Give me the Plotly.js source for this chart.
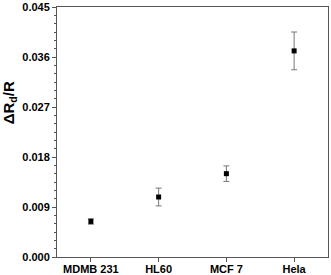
<!DOCTYPE html>
<html><head><meta charset="utf-8">
<script src="https://cdn.plot.ly/plotly-3.0.1.min.js"></script>
<style>html,body{margin:0;padding:0;background:#fff}#c{width:331px;height:275px}</style>
</head><body><div id="c"></div>
<script>
const categories = ["MDMB 231", "HL60", "MCF 7", "Hela"];
const values = [0.0064, 0.0108, 0.0150, 0.0371];
const errors = [0.0005, 0.0016, 0.0014, 0.0034];
const yTicks = [0, 0.009, 0.018, 0.027, 0.036, 0.045];
const yTickText = ["0.000", "0.009", "0.018", "0.027", "0.036", "0.045"];

const fam = "Liberation Sans";
const bold = s => "<b>" + s + "</b>";
const trace = {
  x: categories.map((c, i) => i), y: values, type: "scatter", mode: "markers",
  marker: {symbol: "square", size: 5, color: "#000"},
  error_y: {type: "data", array: errors, visible: true, color: "#777", thickness: 1, width: 3},
  hoverinfo: "none"
};
const layout = {
  width: 331, height: 275,
  margin: {l: 57, r: 3, t: 7, b: 18},
  paper_bgcolor: "#fff", plot_bgcolor: "#fff",
  showlegend: false,
  font: {family: fam, size: 11, color: "#000"},
  xaxis: {
    range: [-0.5, 3.5], tickvals: [0, 1, 2, 3], ticktext: categories.map(bold),
    showgrid: false, zeroline: false, showline: true, mirror: true, linecolor: "#555", linewidth: 1,
    ticks: "outside", ticklen: 4, tickcolor: "#555", ticklabelstandoff: -2,
    tickfont: {family: fam, size: 11, color: "#000"}
  },
  yaxis: {
    range: [0, 0.045], tickvals: yTicks, ticktext: yTickText.map(bold),
    showgrid: false, zeroline: false, showline: true, mirror: true, linecolor: "#555", linewidth: 1,
    ticks: "outside", ticklen: 4, tickcolor: "#555",
    tickfont: {family: fam, size: 11, color: "#000"},
    minor: {dtick: 0.0015, ticks: "outside", ticklen: 2, tickcolor: "#555", showgrid: false}
  },
  annotations: [{
    text: "<b>ΔR<sub>d</sub>/R</b>", xref: "paper", yref: "paper", x: 0, y: 0.615,
    xanchor: "center", yanchor: "middle", xshift: -48, textangle: -90, showarrow: false,
    font: {family: fam, size: 15, color: "#000"}
  }]
};
Plotly.newPlot("c", [trace], layout, {displayModeBar: false, staticPlot: true});
</script></body></html>
